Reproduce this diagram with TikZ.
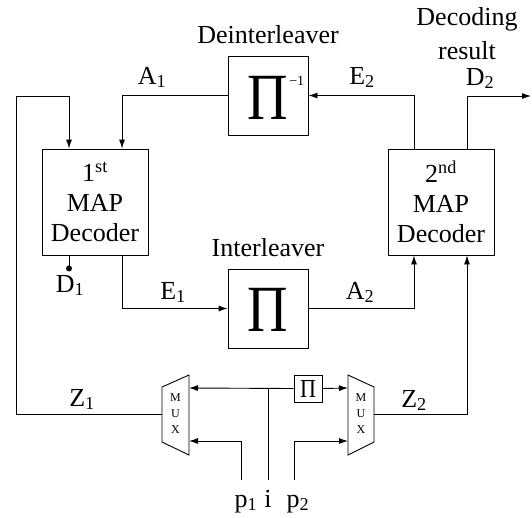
\documentclass[tikz,border=0pt]{standalone}
\usepackage{fontspec}
\setmainfont{Liberation Serif}
\usetikzlibrary{arrows.meta}
\tikzset{
  blockbox/.style={draw, line width=0.9pt, inner sep=0pt, align=center},
  lbl/.style={inner sep=0pt},
  muxtext/.style={inner sep=0pt, align=center, font=\fontsize{12}{16}\selectfont},
  conn/.style={line width=0.9pt},
  arr/.style={conn, -{Latex[length=9pt,width=6pt]}},
}
\newcommand{\bigpi}{\scalebox{0.85}[1]{\fontsize{66}{66}\selectfont Π}}
\begin{document}
\begin{tikzpicture}[x=1pt,y=-1pt, font=\fontsize{26}{30}\selectfont]
\useasboundingbox (0,0) rectangle (532,517);
% blocks
\node[blockbox, minimum width=106pt, minimum height=106pt] (m1) at (95,202) {1\textsuperscript{st}\\MAP\\Decoder};
\node[blockbox, minimum width=106pt, minimum height=106pt] (m2) at (441,202) {2\textsuperscript{nd}\\MAP\\Decoder};
\node[blockbox, minimum width=80pt, minimum height=79pt] (deint) at (268,95.5) {};
\node[lbl, anchor=base] (dpi) at (268,119) {\bigpi\rlap{\kern1pt\raisebox{34pt}{\fontsize{14}{14}\selectfont −1}}};
\node[blockbox, minimum width=80pt, minimum height=79pt] (int) at (268,308.5) {};
\node[lbl] (ipi) at (268,310) {\bigpi};
\node[blockbox, minimum width=28pt, minimum height=27pt] (spi) at (308,388.5) {};
\node[lbl] (spit) at (308,389) {\scalebox{0.85}[1]{\fontsize{26}{26}\selectfont Π}};
% multiplexers
\draw[conn] (162,387) -- (189,375) -- (189,455) -- (162,442) -- cycle;
\draw[conn] (348,375) -- (374,387) -- (374,442) -- (348,455) -- cycle;
\coordinate (mux1w) at (162,414);
\coordinate (mux1a) at (189,388);
\coordinate (mux1b) at (189,441);
\coordinate (mux2e) at (374,414);
\coordinate (mux2a) at (348,388);
\coordinate (mux2b) at (348,441);
\node[muxtext] (mx1) at (175.5,414) {M\\U\\X};
\node[muxtext] (mx2) at (361,414) {M\\U\\X};
% connectors
\draw[arr] (mux1w) -- (16,414) |- (69,96) -- ([xshift=-26pt]m1.north);
\draw[arr] (deint.west) -| ([xshift=27pt]m1.north);
\draw[arr] ([xshift=27pt]m1.south) |- (int.west);
\draw[arr] (int.east) -| ([xshift=-27pt]m2.south);
\draw[arr] ([xshift=-27pt]m2.north) |- (deint.east);
\coordinate (out) at (531,96);
\draw[arr] ([xshift=26pt]m2.north) |- (out);
\draw[conn] ([xshift=-26pt]m1.south) -- ++(0,13) node[circle, fill, inner sep=0pt, minimum size=6pt] (d1dot) {};
\draw[arr] (mux2e) -| ([xshift=26pt]m2.south);
\coordinate (ij) at (268,388);
\draw[arr] (spi.west) -- (mux1a);
\draw[arr] (spi.east) -- (mux2a);
\coordinate (iend) at (268,480);
\draw[conn] (ij) -- (iend);
\coordinate (p1end) at (241,480);
\coordinate (p2end) at (294,480);
\draw[arr] (p1end) |- (mux1b);
\draw[arr] (p2end) |- (mux2b);
% labels
\node[lbl, anchor=base] (tdeint) at (268,43) {Deinterleaver};
\node[lbl, anchor=base] (tint) at (268,256) {Interleaver};
\node[lbl, anchor=base] (tdec) at (467,25) {Decoding};
\node[lbl, anchor=base] (tres) at (467,59) {result};
\node[lbl, anchor=base] (td2) at (480,85) {D\textsubscript{2}};
\node[lbl, anchor=base] (ta1) at (152,84) {A\textsubscript{1}};
\node[lbl, anchor=base] (te2) at (362,84) {E\textsubscript{2}};
\node[lbl, anchor=base] (td1) at (70,292) {D\textsubscript{1}};
\node[lbl, anchor=base] (te1) at (173,299) {E\textsubscript{1}};
\node[lbl, anchor=base] (ta2) at (360,299) {A\textsubscript{2}};
\node[lbl, anchor=base] (tz1) at (82,406) {Z\textsubscript{1}};
\node[lbl, anchor=base] (tz2) at (414,407) {Z\textsubscript{2}};
\node[lbl, anchor=base] (tp1) at (246,507) {p\textsubscript{1}};
\node[lbl, anchor=base] (ti) at (268,507) {i};
\node[lbl, anchor=base] (tp2) at (298,507) {p\textsubscript{2}};
\end{tikzpicture}
\end{document}
